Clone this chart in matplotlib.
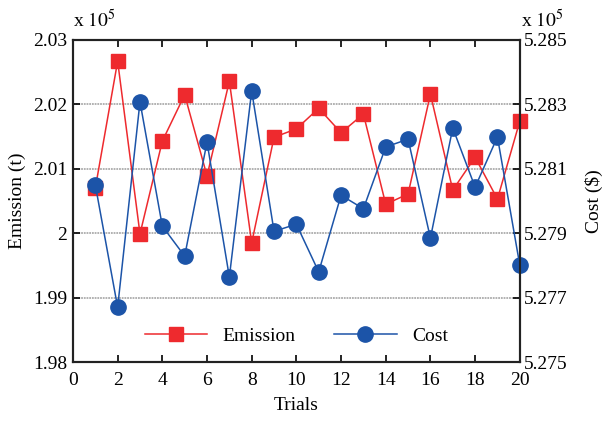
import matplotlib
matplotlib.use("Agg")
import matplotlib.pyplot as plt
import numpy as np

plt.rcParams['font.family'] = ['Liberation Serif', 'DejaVu Serif']
plt.rcParams['mathtext.fontset'] = 'stix'

# ===== Data (values in units of 1e5) =====
trials = list(range(1, 21))
emission = [2.0070, 2.0267, 1.9999, 2.0143, 2.0215, 2.0089, 2.0236, 1.9985, 2.0149, 2.0162,
            2.0194, 2.0156, 2.0185, 2.0045, 2.0061, 2.0216, 2.0067, 2.0118, 2.0053, 2.0174]
cost = [5.2805, 5.2767, 5.28308, 5.27922, 5.27829, 5.28183, 5.27764, 5.28342, 5.27906, 5.27928,
        5.2778, 5.28018, 5.27976, 5.28168, 5.28192, 5.27885, 5.28227, 5.28043, 5.28199, 5.27801]

left_ticks = [1.98, 1.99, 2.00, 2.01, 2.02, 2.03]
left_labels = ['1.98', '1.99', '2', '2.01', '2.02', '2.03']
right_ticks = [5.275, 5.277, 5.279, 5.281, 5.283, 5.285]
right_labels = ['5.275', '5.277', '5.279', '5.281', '5.283', '5.285']
x_ticks = list(range(0, 21, 2))

red = '#EE2A2E'
blue = '#1C54A8'

# ===== Figure =====
fig = plt.figure(figsize=(6.03, 4.21), dpi=100)
ax1 = fig.add_axes([0.121, 0.140, 0.741, 0.765])
ax2 = ax1.twinx()

l1, = ax1.plot(trials, emission, color=red, lw=1.1, marker='s', ms=10.5,
               mec=red, mfc=red, label='Emission', clip_on=False)
l2, = ax2.plot(trials, cost, color=blue, lw=1.1, marker='o', ms=11,
               mec=blue, mfc=blue, label='Cost', clip_on=False)

ax1.set_xlim(0, 20)
ax1.set_ylim(1.98, 2.03)
ax2.set_ylim(5.275, 5.285)
ax1.set_xticks(x_ticks)
ax1.set_yticks(left_ticks)
ax1.set_yticklabels(left_labels)
ax2.set_yticks(right_ticks)
ax2.set_yticklabels(right_labels)

# horizontal dotted grid at interior ticks
for y in left_ticks[1:-1]:
    ax1.axhline(y, color='#ababab', lw=1.3, ls=(0, (1, 0.5)), zorder=0)

fs = 14
ax1.tick_params(axis='x', direction='in', labelsize=fs, length=5, width=1.2,
                top=True, pad=7)
ax1.tick_params(axis='y', direction='in', labelsize=fs, length=5, width=1.2, pad=4)
ax2.tick_params(axis='y', direction='in', labelsize=fs, length=5, width=1.2, pad=3)
for ax in (ax1, ax2):
    for s in ax.spines.values():
        s.set_linewidth(1.5)
        s.set_color('#222222')

ax1.set_xlabel('Trials', fontsize=fs, labelpad=6)
ax1.set_ylabel('Emission (t)', fontsize=fs, labelpad=5)
ax2.set_ylabel('Cost ($)', fontsize=fs, labelpad=12)

fig.text(0.121, 0.925, r'x $10^5$', fontsize=fs, ha='left', va='bottom')
fig.text(0.864, 0.925, r'x $10^5$', fontsize=fs, ha='left', va='bottom')

ax2.legend([l1, l2], ['Emission', 'Cost'], loc='lower center', ncol=2, frameon=False,
           fontsize=fs, bbox_to_anchor=(0.5, 0.0), handlelength=3.2, columnspacing=2.0)

fig.savefig('out.png', dpi=100)
